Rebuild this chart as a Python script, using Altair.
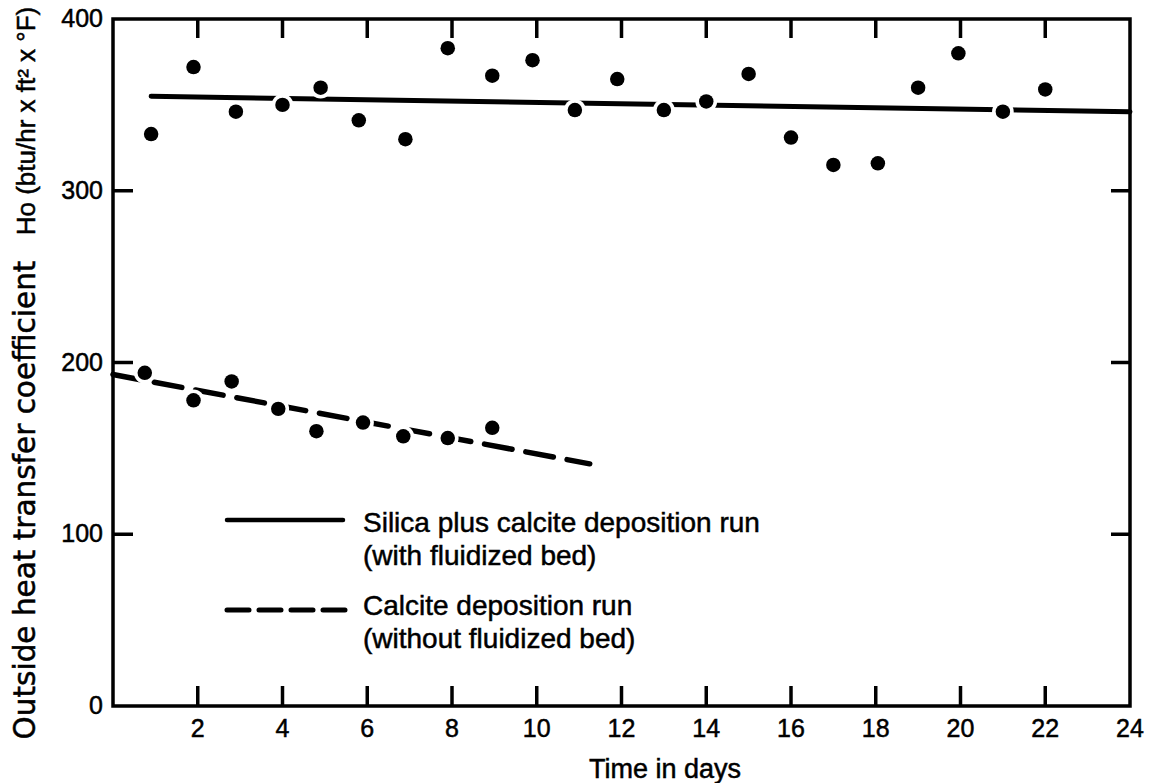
import altair as alt
import pandas as pd

# Measured heat transfer coefficient, silica plus calcite run (with fluidized bed)
silica_day = [0.9, 1.9, 2.9, 4.0, 4.9, 5.8, 6.9, 7.9, 8.95, 9.9, 10.9, 11.9,
              13.0, 14.0, 15.0, 16.0, 17.0, 18.05, 19.0, 19.95, 21.0, 22.0]
silica_ho = [333, 372, 346, 350, 360, 341, 330, 383, 367, 376, 347, 365,
             347, 352, 368, 331, 315, 316, 360, 380, 346, 359]

# Calcite-only run (without fluidized bed)
calcite_day = [0.75, 1.9, 2.8, 3.9, 4.8, 5.9, 6.85, 7.9, 8.95]
calcite_ho = [194, 178, 189, 173, 160, 165, 157, 156, 162]

# Trend lines through each run
silica_fit_day = [0.9, 24.0]
silica_fit_ho = [355, 346]
calcite_fit_day = [0.0, 11.25]
calcite_fit_ho = [193, 141]

# Axis labelling and inward tick marks
x_labels = [2, 4, 6, 8, 10, 12, 14, 16, 18, 20, 22, 24]
y_labels = [0, 100, 200, 300, 400]
x_inner_ticks = [2, 4, 6, 8, 10, 12, 14, 16, 18, 20, 22]
y_inner_ticks = [100, 200, 300]

legend_labels = [
    ["Silica plus calcite deposition run", "(with fluidized bed)"],
    ["Calcite deposition run", "(without fluidized bed)"],
]
y_title_parts = ["Outside heat transfer coefficient", "Ho (btu/hr x ft\u00b2 x \u00b0F)"]
x_title = "Time in days"

W, H = 1017, 687
FONT = "Liberation Sans"
# a thin outline gives the type the weight of the printed lettering
INK = dict(color="black", stroke="black", strokeWidth=0.5)

xs = alt.Scale(domain=[0, 24], nice=False, zero=False)
ys = alt.Scale(domain=[0, 400], nice=False, zero=False)

points = pd.DataFrame({
    "day": silica_day + calcite_day,
    "ho": silica_ho + calcite_ho,
})

calcite_line = alt.Chart(pd.DataFrame({"day": calcite_fit_day, "ho": calcite_fit_ho})).mark_line(
    color="black", strokeWidth=5.5, strokeCap="round", strokeDash=[28, 14]
).encode(x=alt.X("day:Q", scale=xs, axis=None), y=alt.Y("ho:Q", scale=ys, axis=None))

silica_line = alt.Chart(pd.DataFrame({"day": silica_fit_day, "ho": silica_fit_ho})).mark_line(
    color="black", strokeWidth=5, strokeCap="round"
).encode(x=alt.X("day:Q", scale=xs, axis=None), y=alt.Y("ho:Q", scale=ys, axis=None))

# white halo under every dot breaks the trend lines around it
halo = alt.Chart(points).mark_circle(size=470, color="white", opacity=1).encode(
    x=alt.X("day:Q", scale=xs, axis=None), y=alt.Y("ho:Q", scale=ys, axis=None))
dots = alt.Chart(points).mark_circle(size=210, color="black", opacity=1).encode(
    x=alt.X("day:Q", scale=xs, axis=None), y=alt.Y("ho:Q", scale=ys, axis=None))

# inward tick marks on all four sides
xt = pd.DataFrame({"day": x_inner_ticks})
yt = pd.DataFrame({"ho": y_inner_ticks})
tick_style = dict(color="black", strokeWidth=3.5)
top_ticks = alt.Chart(xt).mark_rule(**tick_style).encode(
    x=alt.X("day:Q", scale=xs, axis=None), y=alt.value(0), y2=alt.value(19))
bottom_ticks = alt.Chart(xt).mark_rule(**tick_style).encode(
    x=alt.X("day:Q", scale=xs, axis=None), y=alt.value(H), y2=alt.value(H - 20))
left_ticks = alt.Chart(yt).mark_rule(**tick_style).encode(
    y=alt.Y("ho:Q", scale=ys, axis=None), x=alt.value(0), x2=alt.value(20))
right_ticks = alt.Chart(yt).mark_rule(**tick_style).encode(
    y=alt.Y("ho:Q", scale=ys, axis=None), x=alt.value(W), x2=alt.value(W - 19))

# tick labels
x_tick_text = alt.Chart(pd.DataFrame({"day": x_labels})).mark_text(
    align="center", baseline="middle", font=FONT, fontSize=25, **INK
).encode(x=alt.X("day:Q", scale=xs, axis=None), y=alt.value(H + 23), text=alt.Text("day:Q"))
y_tick_text = alt.Chart(pd.DataFrame({"ho": y_labels})).mark_text(
    align="right", baseline="middle", font=FONT, fontSize=25, **INK
).encode(y=alt.Y("ho:Q", scale=ys, axis=None), x=alt.value(-10), text=alt.Text("ho:Q"))

# x-axis title
x_title_text = alt.Chart(pd.DataFrame({"t": [x_title]})).mark_text(
    align="center", baseline="middle", font=FONT, fontSize=27, **INK
).encode(x=alt.value(552), y=alt.value(H + 64), text="t:N")

# legend keys
key_data = pd.DataFrame({"k": [0]})
solid_key = alt.Chart(key_data).mark_rule(color="black", strokeWidth=4.5, strokeCap="round").encode(
    x=alt.value(114), x2=alt.value(230), y=alt.value(501))
dashed_key = alt.Chart(key_data).mark_rule(color="black", strokeWidth=5, strokeCap="round",
                                           strokeDash=[22, 10]).encode(
    x=alt.value(114), x2=alt.value(232), y=alt.value(591))


def text_block(lines, y0):
    df = pd.DataFrame({"t": lines, "i": list(range(len(lines)))})
    return alt.Chart(df).mark_text(align="left", baseline="middle", font=FONT, fontSize=28,
                                   **INK).encode(
        x=alt.value(250), y=alt.value(y0),
        yOffset=alt.YOffset("i:Q", scale=alt.Scale(domain=[0, 1], range=[0, 33])),
        text="t:N")


legend_text_1 = text_block(legend_labels[0], 505)
legend_text_2 = text_block(legend_labels[1], 588)

# rotated y-axis title in two parts
ytitle_1 = alt.Chart(pd.DataFrame({"t": [y_title_parts[0]]})).mark_text(
    angle=270, align="center", baseline="alphabetic", font="DejaVu Sans", fontSize=29.5, **INK
).encode(x=alt.value(-78), y=alt.value(481), text="t:N")
ytitle_2 = alt.Chart(pd.DataFrame({"t": [y_title_parts[1]]})).mark_text(
    angle=270, align="center", baseline="alphabetic", font=FONT, fontSize=26, **INK
).encode(x=alt.value(-78), y=alt.value(102), text="t:N")

chart = alt.layer(
    calcite_line, silica_line, halo, dots,
    top_ticks, bottom_ticks, left_ticks, right_ticks,
    x_tick_text, y_tick_text, x_title_text,
    solid_key, dashed_key, legend_text_1, legend_text_2,
    ytitle_1, ytitle_2,
).properties(
    width=W, height=H,
    autosize=alt.AutoSizeParams(type="none"),
    padding={"left": 113, "top": 19, "right": 22, "bottom": 77},
    background="white",
).configure_view(
    stroke="black", strokeWidth=3.5
)

chart.save("out.html", embed_options={"renderer": "svg", "actions": False})
